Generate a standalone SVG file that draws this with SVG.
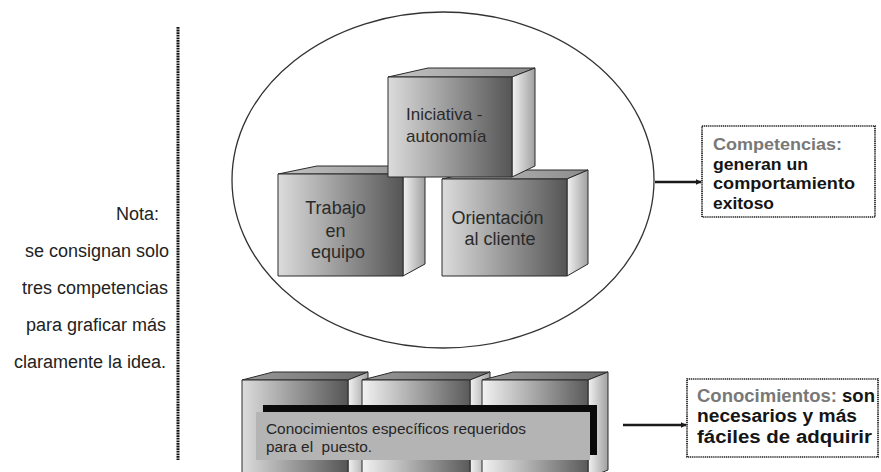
<svg xmlns="http://www.w3.org/2000/svg" width="881" height="472" viewBox="0 0 881 472">
<defs>
  <linearGradient id="front" x1="0" y1="0" x2="1" y2="0">
    <stop offset="0" stop-color="#dcdcdc"/>
    <stop offset="1" stop-color="#555555"/>
  </linearGradient>
  <linearGradient id="front2" x1="0" y1="0" x2="1" y2="0">
    <stop offset="0" stop-color="#f2f2f2"/>
    <stop offset="1" stop-color="#5a5a5a"/>
  </linearGradient>
  <linearGradient id="side" x1="0" y1="0" x2="1" y2="0">
    <stop offset="0" stop-color="#f2f2f2"/>
    <stop offset="1" stop-color="#a0a0a0"/>
  </linearGradient>
  <linearGradient id="top" x1="0" y1="0" x2="1" y2="0">
    <stop offset="0" stop-color="#c4c4c4"/>
    <stop offset="1" stop-color="#8c8c8c"/>
  </linearGradient>
  <linearGradient id="top2" x1="0" y1="0" x2="1" y2="0">
    <stop offset="0" stop-color="#9a9a9a"/>
    <stop offset="1" stop-color="#6a6a6a"/>
  </linearGradient>
  <marker id="arrow" viewBox="0 0 6 6" refX="5.5" refY="3" markerWidth="6" markerHeight="6" markerUnits="userSpaceOnUse" orient="auto">
    <path d="M0,0 L6,3 L0,6 Z" fill="#1a1a1a"/>
  </marker>
</defs>
<style>
  .edge { stroke: #2a2a2a; stroke-width: 1; stroke-linejoin: round; }
  .f { fill: url(#front); }
  .f2 { fill: url(#front2); }
  .s { fill: url(#side); }
  .t { fill: url(#top); }
  .t2 { fill: url(#top2); }
  .cube { font-family: "Liberation Sans", Arial, sans-serif; fill: #2a2a2a; }
  .note { font-family: "Liberation Sans", Arial, sans-serif; font-size: 18px; fill: #222; text-anchor: end; }
  .box { fill: #fff; stroke: #1e1e1e; stroke-width: 1.7; stroke-dasharray: 1.2 0.7; }
  .btxt { font-family: "Liberation Sans", Arial, sans-serif; font-weight: bold; fill: #151515; }
  .gray { fill: #787878; }
  .conn { stroke: #1a1a1a; stroke-width: 2.6; fill: none; }
</style>
<rect width="881" height="472" fill="#fff"/>

<g id="separator">
  <line x1="178" y1="27" x2="178" y2="460" stroke="#111" stroke-width="3" stroke-dasharray="1.8 0.8"/>
</g>

<g id="note">
  <text class="note" x="159" y="220">Nota:</text>
  <text class="note" x="169" y="257">se consignan solo</text>
  <text class="note" x="168" y="294">tres competencias</text>
  <text class="note" x="166" y="331">para graficar más</text>
  <text class="note" x="166" y="368">claramente la idea.</text>
</g>

<g id="competencias-ellipse">
  <ellipse cx="443" cy="180" rx="211" ry="168" fill="#fff" stroke="#333" stroke-width="1.3"/>
</g>

<g id="trabajo">
  <polygon class="t edge" points="278,174 317,166 425,166 403,174"/>
  <polygon class="s edge" points="403,174 425,166 425,264 403,276"/>
  <rect class="f edge" x="278" y="174" width="125" height="102"/>
  <text class="cube" font-size="18" text-anchor="middle">
    <tspan x="338" y="214">Trabajo</tspan>
    <tspan x="338" y="237">en</tspan>
    <tspan x="338" y="258">equipo</tspan>
  </text>
</g>

<g id="orientacion">
  <polygon class="t edge" points="442,179 482,170 588,170 567,179"/>
  <polygon class="s edge" points="567,179 588,170 588,264 567,276"/>
  <rect class="f edge" x="442" y="179" width="125" height="97"/>
  <text class="cube" font-size="18" text-anchor="middle">
    <tspan x="500" y="224">Orientación</tspan>
    <tspan x="500" y="245">al cliente</tspan>
  </text>
</g>

<g id="iniciativa">
  <polygon class="t edge" points="388,77 428,68 535,68 512,77"/>
  <polygon class="s edge" points="512,77 535,68 535,166 512,177"/>
  <rect class="f edge" x="388" y="77" width="124" height="100"/>
  <text class="cube" font-size="17">
    <tspan x="406" y="120">Iniciativa -</tspan>
    <tspan x="406" y="142">autonomía</tspan>
  </text>
</g>

<g id="conocimientos-cubes">
  <g id="cube-1">
    <polygon class="t2 edge" points="242,380 273,372 368,372 348,380"/>
    <polygon class="s edge" points="348,380 368,372 368,470 348,478"/>
    <rect class="f edge" x="242" y="380" width="106" height="98"/>
  </g>
  <g id="cube-2">
    <polygon class="t2 edge" points="362,380 393,372 490,372 470,380"/>
    <polygon class="s edge" points="470,380 490,372 490,470 470,478"/>
    <rect class="f2 edge" x="362" y="380" width="108" height="98"/>
  </g>
  <g id="cube-3">
    <polygon class="t2 edge" points="482,380 513,372 608,372 588,380"/>
    <polygon class="s edge" points="588,380 608,372 608,470 588,478"/>
    <rect class="f2 edge" x="482" y="380" width="106" height="98"/>
  </g>
  <g id="conocimientos-label">
    <rect x="263" y="405" width="334" height="50" fill="#0a0a0a"/>
    <rect x="256" y="412" width="334" height="48" fill="#b4b4b4"/>
    <text font-family="Liberation Sans, Arial, sans-serif" font-size="15.4" fill="#262626" style="white-space:pre">
      <tspan x="266" y="434">Conocimientos específicos requeridos</tspan>
      <tspan x="266" y="452">para el  puesto.</tspan>
    </text>
  </g>
</g>

<g id="connectors">
  <line class="conn" x1="655" y1="182" x2="701" y2="182" marker-end="url(#arrow)"/>
  <line class="conn" x1="623" y1="425" x2="686" y2="425" marker-end="url(#arrow)"/>
</g>

<g id="box-competencias">
  <rect class="box" x="702" y="126" width="173" height="91"/>
  <text class="btxt gray" font-size="17" x="713" y="150" textLength="129" lengthAdjust="spacingAndGlyphs">Competencias:</text>
  <text class="btxt" font-size="17" x="713" y="169.5" textLength="95" lengthAdjust="spacingAndGlyphs">generan un</text>
  <text class="btxt" font-size="17" x="713" y="189" textLength="142" lengthAdjust="spacingAndGlyphs">comportamiento</text>
  <text class="btxt" font-size="17" x="713" y="208.5" textLength="61" lengthAdjust="spacingAndGlyphs">exitoso</text>
</g>

<g id="box-conocimientos">
  <rect class="box" x="687" y="379" width="191" height="78"/>
  <text class="btxt" font-size="18" x="697" y="402" textLength="178" lengthAdjust="spacingAndGlyphs"><tspan class="gray">Conocimientos:</tspan> son</text>
  <text class="btxt" font-size="18" x="697" y="422.3" textLength="160" lengthAdjust="spacingAndGlyphs">necesarios y más</text>
  <text class="btxt" font-size="18" x="697" y="442.6" textLength="175" lengthAdjust="spacingAndGlyphs">fáciles de adquirir</text>
</g>
</svg>
